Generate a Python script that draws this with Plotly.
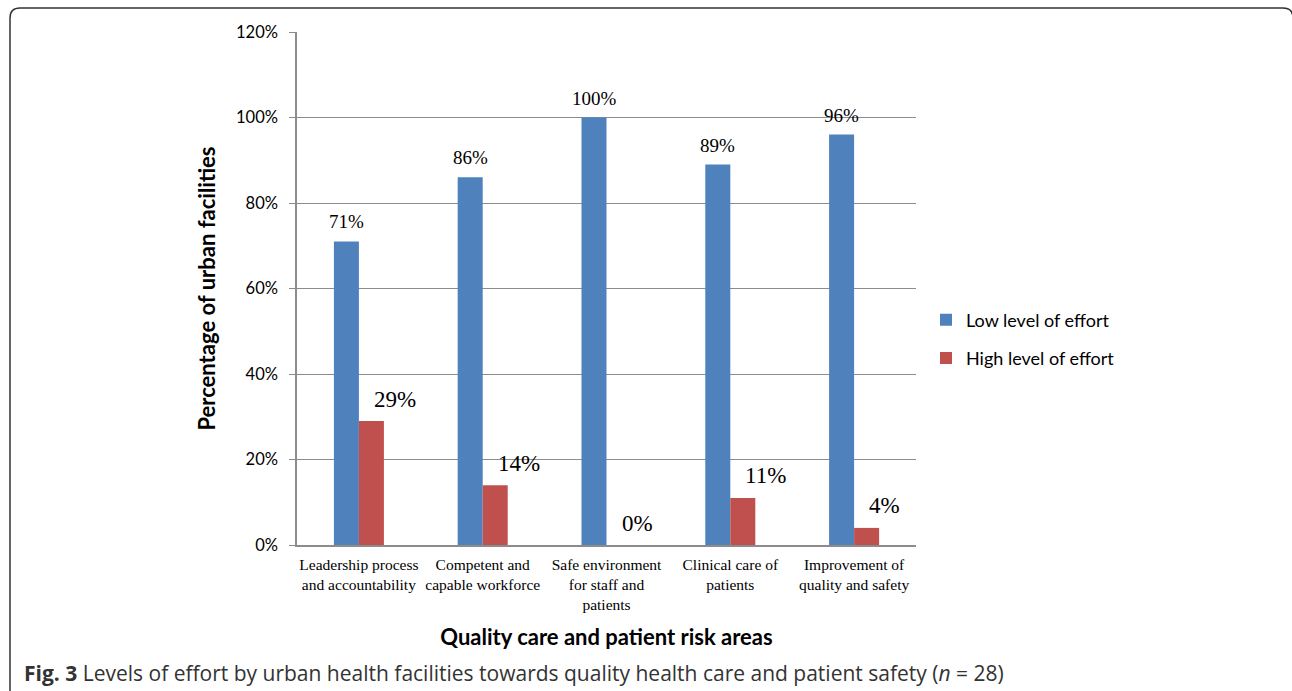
import plotly.graph_objects as go

categories = ["Leadership process<br>and accountability",
              "Competent and<br>capable workforce",
              "Safe environment<br>for staff and<br>patients",
              "Clinical care of<br>patients",
              "Improvement of<br>quality and safety"]
low_effort = [71, 86, 100, 89, 96]
high_effort = [29, 14, 0, 11, 4]
y_ticks = [0, 20, 40, 60, 80, 100, 120]
y_tick_labels = [f"{v}%" for v in y_ticks]

BLUE = "#4F81BD"
RED = "#C0504D"
GRID = "#8C8C8C"

W, H = 1292, 691
L, R, T, B = 297, 376, 32, 146
PW, PH = W - L - R, H - T - B


def px(x):
    return (x - L) / PW


def py(y):
    return (H - B - y) / PH


fig = go.Figure()
fig.add_trace(go.Bar(x=categories, y=low_effort, name="Low level of effort",
                     marker=dict(color=BLUE, line=dict(width=0)),
                     legendgroup="a"))
fig.add_trace(go.Bar(x=categories, y=high_effort, name="High level of effort",
                     marker=dict(color=RED, line=dict(width=0)),
                     legendgroup="b"))

annotations = []
for c, v in zip(categories, low_effort):
    annotations.append(dict(x=c, y=v, xref="x", yref="y", text=f"{v}%",
                            showarrow=False, xshift=-12.4, yshift=19.5,
                            xanchor="center", yanchor="middle",
                            font=dict(family="Liberation Serif", size=19, color="#000")))
for c, v in zip(categories, high_effort):
    annotations.append(dict(x=c, y=v, xref="x", yref="y", text=f"{v}%",
                            showarrow=False, xshift=13, yshift=22,
                            xanchor="left", yanchor="middle",
                            font=dict(family="Liberation Serif", size=23, color="#000")))

annotations.append(dict(x=px(22), y=py(673), xref="paper", yref="paper",
                        xanchor="left", yanchor="middle", showarrow=False,
                        text="<b>Fig. 3</b> Levels of effort by urban health facilities towards quality health care and patient safety (<i>n</i> = 28)",
                        font=dict(family="Open Sans", size=21, color="#333")))

frame = (f"M {px(10)},{py(691)} L {px(10)},{py(18)} Q {px(10)},{py(8)} {px(20)},{py(8)} "
         f"L {px(1283)},{py(8)} Q {px(1293)},{py(8)} {px(1293)},{py(18)} L {px(1293)},{py(691)}")

fig.update_layout(
    width=W, height=H,
    margin=dict(l=L, r=R, t=T, b=B, pad=0),
    paper_bgcolor="white", plot_bgcolor="white",
    barmode="group", bargap=0.596, bargroupgap=0,
    annotations=annotations,
    shapes=[dict(type="path", path=frame, xref="paper", yref="paper",
                 line=dict(color="#333", width=1.5))],
    showlegend=True,
    legend=dict(x=px(926), y=py(339), xanchor="left", yanchor="middle",
                font=dict(family="Lato", size=18, color="#000"),
                itemwidth=30, tracegroupgap=12, bgcolor="rgba(0,0,0,0)"),
    xaxis=dict(showline=True, linecolor=GRID, linewidth=2, showgrid=False,
               ticks="", tickfont=dict(family="Liberation Serif", size=15.5, color="#000"),
               ticklabelstandoff=4,
               title=dict(text="<b>Quality care and patient risk areas</b>",
                          font=dict(family="Lato", size=22, color="#000"), standoff=18)),
    yaxis=dict(range=[0, 120], tickvals=y_ticks, ticktext=y_tick_labels,
               showline=True, linecolor=GRID, linewidth=1.5,
               showgrid=True, gridcolor=GRID, gridwidth=1.2,
               ticks="outside", ticklen=6, tickcolor=GRID, tickwidth=1.2,
               tickfont=dict(family="Lato", size=16.5, color="#000"),
               ticklabelstandoff=8, zeroline=False,
               title=dict(text="<b>Percentage of urban facilities</b>",
                          font=dict(family="Lato", size=22, color="#000"), standoff=14)),
)

fig.write_html("out.html", config={"displayModeBar": False},
               post_script="document.body.style.margin='0';document.body.style.overflow='hidden';")
